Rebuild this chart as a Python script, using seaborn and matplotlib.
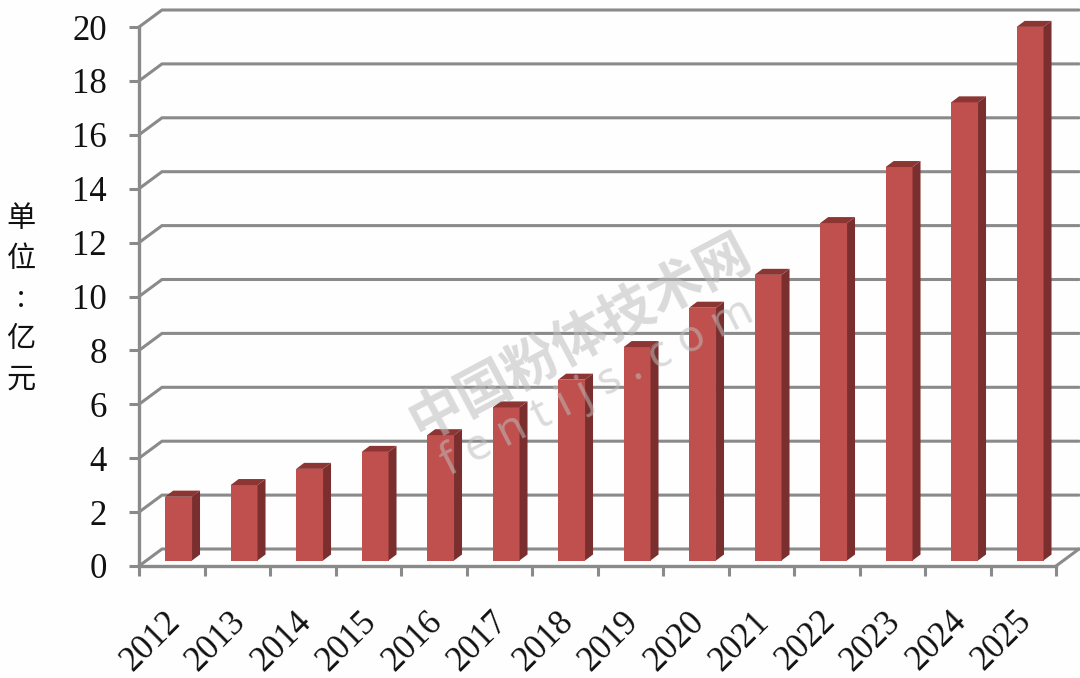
import matplotlib
matplotlib.use("Agg")
import matplotlib.pyplot as plt
from matplotlib.patches import Polygon
from matplotlib.transforms import ScaledTranslation
import pandas as pd
import seaborn as sns

years = ["2012", "2013", "2014", "2015", "2016", "2017", "2018",
         "2019", "2020", "2021", "2022", "2023", "2024", "2025"]
values = [2.37, 2.8, 3.4, 4.03, 4.65, 5.68, 6.71,
          7.92, 9.38, 10.6, 12.52, 14.6, 17.0, 19.8]
y_ticks = list(range(0, 21, 2))
y_title = "单\n位\n:\n亿\n元"
watermark_cn = "中国粉体技术网"
watermark_en = "f e n t i j s . c o m"

FRONT = "#C0504D"
SIDE = "#7A2F2E"
TOP = "#8C3533"
GRID = "#8A8A8A"
BG = "#FEFEFE"
SERIF = "Liberation Serif"
CJK = "Noto Sans CJK SC"

sns.set_theme(style="white")
plt.rcParams["font.family"] = [SERIF, CJK, "DejaVu Sans"]

W, H = 1080, 678
fig = plt.figure(figsize=(W / 100, H / 100), dpi=100, facecolor=BG)
# axes box in pixels: left 139, right 1079, bottom 566, top 10
ax = fig.add_axes([139 / W, 1 - 566 / H, 940 / W, 556 / H], facecolor=BG)

df = pd.DataFrame({"year": years, "value": values})
sns.barplot(data=df, x="year", y="value", color=FRONT, saturation=1,
            width=0.41, ax=ax, zorder=3, linewidth=0)

# depth of the wall and of a bar, in data units
wall_dx, wall_dy = 23 / 65.5, 17 / 26.95
bar_dx, bar_dy = 8 / 65.5, 6 / 26.95
gap_dx, gap_dy = (wall_dx - bar_dx) / 2 - 0.01, (wall_dy - bar_dy) / 2
x_lo, x_hi = -0.5, len(years) - 0.5

ax.set_xlim(x_lo, x_hi + wall_dx)
ax.set_ylim(0, y_ticks[-1] + wall_dy)

# wall grid lines
for v in y_ticks:
    ax.plot([x_lo, x_lo + wall_dx, x_hi + wall_dx],
            [v, v + wall_dy, v + wall_dy],
            color=GRID, lw=2.2, zorder=1, solid_joinstyle="miter", clip_on=False)
ax.plot([x_hi, x_hi + wall_dx], [0, wall_dy], color=GRID, lw=2.2, zorder=1, clip_on=False)

# extrude each bar
for p in list(ax.patches):
    p.set_x(p.get_x() + gap_dx)
    p.set_y(gap_dy)
    x0, x1 = p.get_x(), p.get_x() + p.get_width()
    y0, y1 = gap_dy, gap_dy + p.get_height()
    ax.add_patch(Polygon([(x1, y0), (x1 + bar_dx, y0 + bar_dy),
                          (x1 + bar_dx, y1 + bar_dy), (x1, y1)],
                         closed=True, fc=SIDE, ec="none", zorder=3))
    ax.add_patch(Polygon([(x0, y1), (x0 + bar_dx, y1 + bar_dy),
                          (x1 + bar_dx, y1 + bar_dy), (x1, y1)],
                         closed=True, fc=TOP, ec="none", zorder=3))

# axes
for s in ["top", "right"]:
    ax.spines[s].set_visible(False)
for s in ["left", "bottom"]:
    ax.spines[s].set_color(GRID)
    ax.spines[s].set_linewidth(2.4)
    ax.spines[s].set_zorder(4)
ax.spines["left"].set_bounds(0, y_ticks[-1])
ax.spines["bottom"].set_bounds(x_lo, x_hi)

ax.set_yticks(y_ticks)
ax.set_yticklabels([str(v) for v in y_ticks], fontsize=25, color="#111111", family=SERIF)
ax.tick_params(axis="y", length=7, width=2.2, color=GRID, pad=16, left=True)

ax.set_xticks(range(len(years)))
ax.set_xticklabels(years, fontsize=25, rotation=45, color="#111111", family=SERIF)
ax.tick_params(axis="x", which="major", length=0, pad=28, bottom=True)
ax.set_xticks([x_lo + i for i in range(len(years) + 1)], minor=True)
ax.tick_params(axis="x", which="minor", length=7, width=2.2, color=GRID, bottom=True)
shift = ScaledTranslation(-21 / 100, 0, fig.dpi_scale_trans)
for lab in ax.get_xticklabels():
    lab.set_transform(lab.get_transform() + shift)

ax.set_xlabel("")
ax.set_ylabel(y_title, rotation=0, fontsize=21, family=[CJK], color="#111111",
              linespacing=1.44, va="center", ha="center")
ax.yaxis.set_label_coords((21 - 139) / 940, (566 - 299) / 556)

# watermark
fig.text(580 / W, 1 - 338 / H, watermark_cn, fontsize=39, family=[CJK], weight="bold",
         color="#BDBDBD", alpha=0.55, rotation=28, ha="center", va="center", zorder=10)
fig.text(597 / W, 1 - 388 / H, watermark_en, fontsize=32, family=["Noto Sans"], weight="bold",
         color="#BDBDBD", alpha=0.55, rotation=27, ha="center", va="center", zorder=10)

fig.savefig("out.png", dpi=100, facecolor=BG)
